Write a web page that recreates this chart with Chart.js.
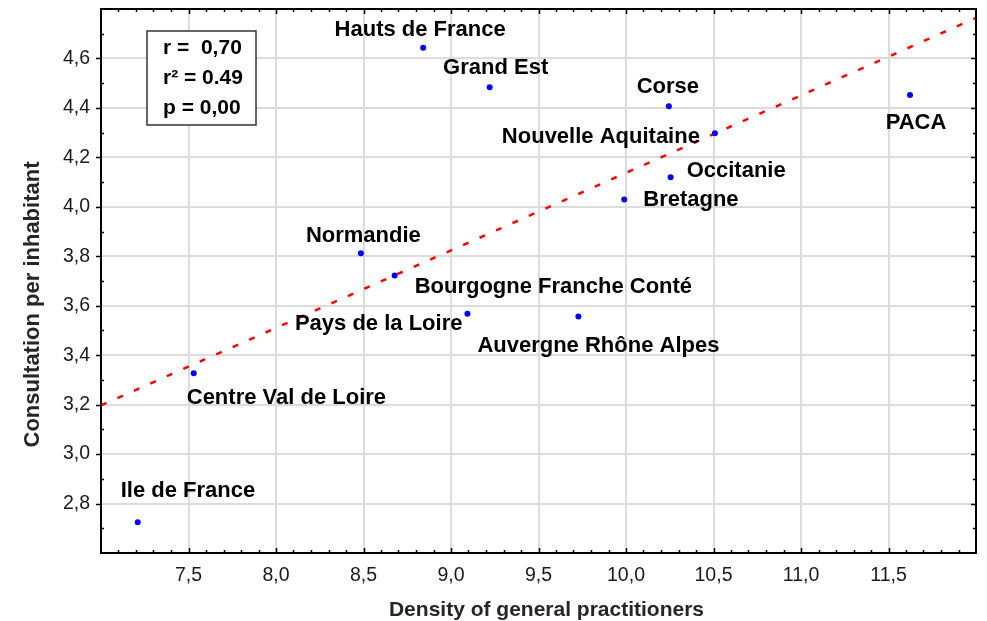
<!DOCTYPE html>
<html>
<head>
<meta charset="utf-8">
<script src="https://cdn.jsdelivr.net/npm/chart.js@4"></script>
<style>
  html, body { margin: 0; padding: 0; background: #fff; }
  #wrap { width: 987px; height: 621px; position: relative; }
</style>
</head>
<body>
<div id="wrap"><canvas id="scatterChart"></canvas></div>
<script>
// Regions and their values
const regions = [
  "Ile de France", "Centre Val de Loire", "Normandie", "Bourgogne Franche Conté",
  "Pays de la Loire", "Auvergne Rhône Alpes", "Hauts de France", "Grand Est",
  "Corse", "Nouvelle Aquitaine", "Occitanie", "Bretagne", "PACA"
];
const density = [7.21, 7.53, 8.485, 8.678, 9.094, 9.728, 8.841, 9.221, 10.245, 10.508, 10.255, 9.99, 11.623];
const consultations = [2.724, 3.327, 3.812, 3.722, 3.568, 3.556, 4.643, 4.484, 4.407, 4.298, 4.12, 4.03, 4.452];

// Fitted line end points
const trendX = [7.0, 12.0];
const trendY = [3.197, 4.764];

// Statistics box
const statsLines = ["r =  0,70", "r\u00b2 = 0.49", "p = 0,00"];

// Axis titles
const xTitle = "Density of general practitioners";
const yTitle = "Consultation per inhabitant";

// where each label sits relative to its point (pixels, text baseline)
const labelPlacement = [
  { dx: -17, dy: -25, align: "left" },
  { dx: -7, dy: 31, align: "left" },
  { dx: 2.5, dy: -11, align: "center" },
  { dx: 20, dy: 17, align: "left" },
  { dx: -5, dy: 16, align: "right" },
  { dx: 20, dy: 35, align: "center" },
  { dx: -3, dy: -12, align: "center" },
  { dx: 6, dy: -13, align: "center" },
  { dx: -1, dy: -13, align: "center" },
  { dx: -15, dy: 10, align: "right" },
  { dx: 16, dy: 0, align: "left" },
  { dx: 19, dy: 6.5, align: "left" },
  { dx: 6, dy: 34, align: "center" },
];

const FONT = '"Liberation Sans", Arial, sans-serif';

const points = density.map((d, i) => ({ x: d, y: consultations[i] }));
const trend = trendX.map((d, i) => ({ x: d, y: trendY[i] }));

// Frame, inward ticks, point labels, titles and the stats box
const decorPlugin = {
  id: "decor",
  afterDraw(chart) {
    const { ctx, chartArea: a, scales } = chart;
    const xs = scales.x, ys = scales.y;
    ctx.save();

    // tick marks
    ctx.strokeStyle = "#000";
    ctx.lineWidth = 1.5;
    ctx.beginPath();
    for (let i = 71; i < 120; i++) {
      const px = Math.round(xs.getPixelForValue(i / 10)) + 0.5;
      const len = i % 5 === 0 ? 5 : 3;
      ctx.moveTo(px, a.bottom); ctx.lineTo(px, a.bottom - len);
      ctx.moveTo(px, a.top); ctx.lineTo(px, a.top + len);
    }
    for (let i = 27; i < 48; i++) {
      const py = Math.round(ys.getPixelForValue(i / 10)) + 0.5;
      const major = i % 2 === 0;
      if (major) { ctx.moveTo(a.left - 5, py); ctx.lineTo(a.left, py); }
      else { ctx.moveTo(a.left, py); ctx.lineTo(a.left + 3, py); }
      ctx.moveTo(a.right, py); ctx.lineTo(a.right - (major ? 5 : 3), py);
    }
    ctx.stroke();

    // frame
    ctx.lineWidth = 2;
    ctx.strokeRect(a.left, a.top, a.right - a.left, a.bottom - a.top);

    // point labels
    const meta = chart.getDatasetMeta(0);
    ctx.fillStyle = "#000";
    ctx.font = "bold 22px " + FONT;
    ctx.textBaseline = "alphabetic";
    meta.data.forEach((pt, i) => {
      const p = labelPlacement[i];
      ctx.textAlign = p.align;
      ctx.fillText(regions[i], pt.x + p.dx, pt.y + p.dy);
    });

    // stats box
    ctx.fillStyle = "#fff";
    ctx.fillRect(147, 31, 109, 94);
    ctx.strokeStyle = "#333";
    ctx.lineWidth = 1.5;
    ctx.strokeRect(147, 31, 109, 94);
    ctx.fillStyle = "#000";
    ctx.font = "bold 21px " + FONT;
    ctx.textAlign = "left";
    statsLines.forEach((t, i) => ctx.fillText(t, 163, 53.5 + i * 30));

    // axis titles
    ctx.fillStyle = "#262626";
    ctx.font = "bold 21px " + FONT;
    ctx.textAlign = "center";
    ctx.fillText(xTitle, (a.left + a.right) / 2 + 8, 616);
    ctx.save();
    ctx.translate(39, 304.5);
    ctx.rotate(-Math.PI / 2);
    ctx.font = "bold 22px " + FONT;
    ctx.fillText(yTitle, 0, 0);
    ctx.restore();

    ctx.restore();
  },
};

const commaLabel = (lo, hi) => (value) => {
  if (Math.abs(value - lo) < 1e-6 || Math.abs(value - hi) < 1e-6) return "";
  return value.toFixed(1).replace(".", ",");
};

const ctx = document.getElementById("scatterChart").getContext("2d");
new Chart(ctx, {
  type: "scatter",
  data: {
    datasets: [
      {
        label: "Regions",
        data: points,
        backgroundColor: "#0000ff",
        borderWidth: 0,
        pointRadius: 3,
      },
      {
        label: "Fit",
        data: trend,
        showLine: true,
        borderColor: "#ff0000",
        borderWidth: 2.5,
        borderDash: [6, 12],
        pointRadius: 0,
        fill: false,
      },
    ],
  },
  options: {
    responsive: true,
    maintainAspectRatio: false,
    animation: false,
    layout: { padding: { top: 9, right: 11, left: 0, bottom: 0 } },
    plugins: {
      legend: { display: false },
      tooltip: { enabled: false },
    },
    scales: {
      x: {
        type: "linear",
        min: 7,
        max: 12,
        afterFit: (scale) => {
          scale.height = 68;
          scale.paddingLeft = 0;
          scale.paddingRight = 0;
        },
        border: { display: false },
        grid: { color: "#dcdcdc", lineWidth: 2, drawTicks: false },
        ticks: {
          stepSize: 0.5,
          padding: 11,
          color: "#1a1a1a",
          font: { family: FONT, size: 19.5 },
          maxRotation: 0,
          callback: commaLabel(7, 12),
        },
      },
      y: {
        type: "linear",
        min: 2.6,
        max: 4.8,
        afterFit: (scale) => {
          scale.width = 101;
          scale.paddingTop = 0;
          scale.paddingBottom = 0;
        },
        border: { display: false },
        grid: { color: "#dcdcdc", lineWidth: 2, drawTicks: false },
        ticks: {
          stepSize: 0.2,
          padding: 11,
          color: "#1a1a1a",
          font: { family: FONT, size: 19.5 },
          callback: commaLabel(2.6, 4.8),
        },
      },
    },
  },
  plugins: [decorPlugin],
});
</script>
</body>
</html>
